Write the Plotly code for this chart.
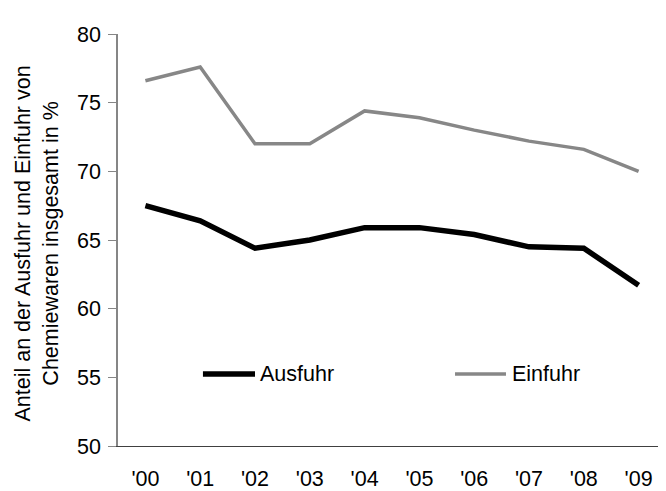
import plotly.graph_objects as go

years = ["'00", "'01", "'02", "'03", "'04", "'05", "'06", "'07", "'08", "'09"]
ausfuhr = [67.5, 66.4, 64.4, 65.0, 65.9, 65.9, 65.4, 64.5, 64.4, 61.7]
einfuhr = [76.6, 77.6, 72.0, 72.0, 74.4, 73.9, 73.0, 72.2, 71.6, 70.0]
y_ticks = [50, 55, 60, 65, 70, 75, 80]
y_title = "Anteil an der Ausfuhr und Einfuhr von<br>Chemiewaren insgesamt in %"

FONT = "Liberation Sans, Arial, sans-serif"
FS = 21.5
BLACK = "#000000"
GRAY = "#878787"

x_idx = list(range(len(years)))

fig = go.Figure()
fig.add_trace(go.Scatter(x=x_idx, y=einfuhr, mode="lines", name="Einfuhr",
                         line=dict(color=GRAY, width=3.5), showlegend=False))
fig.add_trace(go.Scatter(x=x_idx, y=ausfuhr, mode="lines", name="Ausfuhr",
                         line=dict(color=BLACK, width=5.5), showlegend=False))

# manual legend (sample lines + labels)
legend_items = [("Ausfuhr", BLACK, 5.5, 0.155, 0.250, 0.2555),
                ("Einfuhr", GRAY, 3.5, 0.615, 0.708, 0.7145)]
for name, col, w, x0, x1, xt in legend_items:
    fig.add_shape(type="line", xref="paper", yref="paper", x0=x0, x1=x1,
                  y0=0.175, y1=0.175, line=dict(color=col, width=w))
    fig.add_annotation(xref="paper", yref="paper", x=xt, y=0.175, text=name,
                       showarrow=False, xanchor="left", yanchor="middle",
                       font=dict(family=FONT, size=FS, color="#000000"))

fig.add_annotation(xref="paper", yref="paper", x=-0.147, y=0.4925, text=y_title,
                   showarrow=False, textangle=-90, xanchor="center", yanchor="middle",
                   font=dict(family=FONT, size=FS, color="#000000"))

fig.update_layout(
    width=658, height=483,
    margin=dict(l=110, r=0, t=26, b=40),
    paper_bgcolor="white", plot_bgcolor="white",
    font=dict(family=FONT, size=FS, color="#000000"),
    xaxis=dict(range=[-0.5, 9.5], tickmode="array", tickvals=x_idx, ticktext=years,
               showgrid=False, zeroline=False, showline=True, linecolor="#404040",
               linewidth=1, ticks="", ticklabelstandoff=13,
               tickfont=dict(family=FONT, size=FS, color="#000000")),
    yaxis=dict(range=[50, 80], tickmode="array", tickvals=y_ticks,
               showgrid=False, zeroline=False, showline=True, linecolor="#868686",
               linewidth=1.5, ticks="outside", ticklen=8, tickcolor="#868686",
               tickwidth=1, ticklabelstandoff=3,
               tickfont=dict(family=FONT, size=FS, color="#000000")),
)

fig.write_html("out.html")
